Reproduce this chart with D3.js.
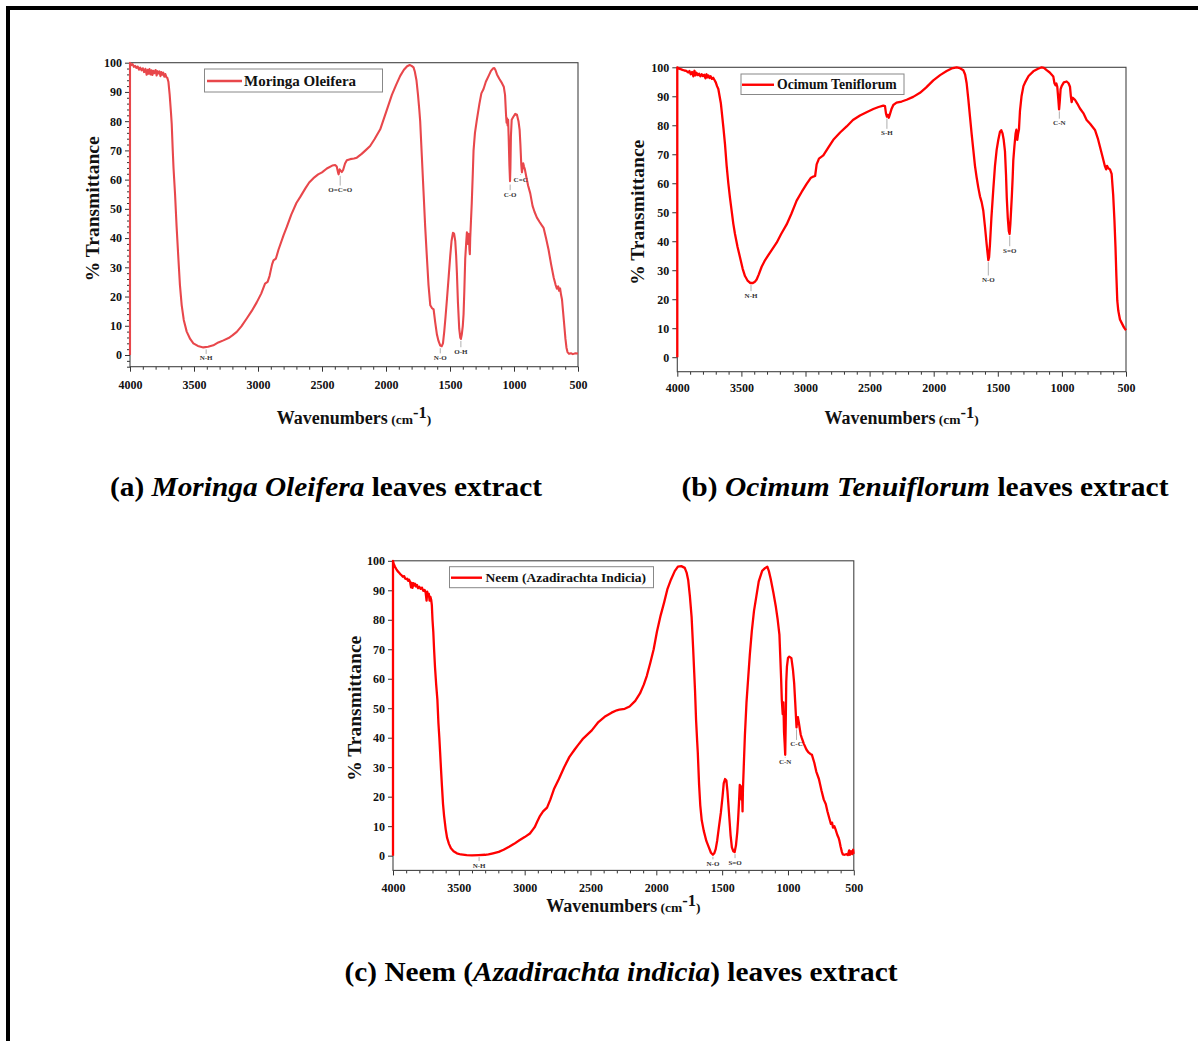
<!DOCTYPE html>
<html>
<head>
<meta charset="utf-8">
<script src="https://cdn.jsdelivr.net/npm/d3@7"></script>
<style>
  html, body { margin: 0; padding: 0; background: #fff; }
  svg { display: block; }
  text { font-family: "Liberation Serif", "Times New Roman", serif; }
</style>
</head>
<body>
<svg id="fig" width="1198" height="1041"></svg>
<script>
// ---- FTIR spectra: [wavenumber (cm-1), % transmittance] ----
const wavenumberTicks = [4000, 3500, 3000, 2500, 2000, 1500, 1000, 500];
const transmittanceTicks = [0, 10, 20, 30, 40, 50, 60, 70, 80, 90, 100];

const moringaSpectrum = [
  [4000,0],[4000,100],[3990,99.2],[3980,99.5],[3970,98.6],[3960,98.9],[3950,98.2],[3940,98.7],[3930,97.6],
  [3920,98.3],[3910,97.4],[3900,98.1],[3890,96.8],[3880,97.9],[3870,95.9],[3862,97.6],[3855,96.2],
  [3848,97.8],[3840,96.0],[3832,97.4],[3825,95.8],[3818,97.2],[3810,96.4],[3800,97.5],[3792,95.6],
  [3785,97.1],[3778,96.3],[3770,97.0],[3762,95.4],[3755,96.8],[3748,95.9],[3740,96.6],[3732,95.2],
  [3724,96.1],[3715,95.0],[3708,94.8],[3700,93.5],[3690,89],[3680,83],[3674,79],[3666,70],[3660,64],
  [3648,55],[3636,44],[3622,33],[3610,24],[3596,17],[3580,12],[3557,8],[3530,5.5],[3505,4],[3470,3.1],
  [3427,2.6],[3390,2.8],[3349,3.3],[3310,4.3],[3270,5],[3230,5.8],[3200,6.7],[3166,7.9],[3130,9.8],
  [3088,12.5],[3050,15],[3010,18],[2975,21],[2945,24.4],[2925,25],[2910,27],[2890,31],[2879,32.4],
  [2860,33],[2840,36],[2800,41],[2775,43.8],[2740,48],[2700,52],[2671,54],[2630,57],[2600,59],
  [2567,60.5],[2530,61.8],[2500,62.5],[2462,63.8],[2420,64.8],[2397,65],[2385,64.5],[2375,62.5],
  [2370,61.8],[2362,63.5],[2352,63],[2345,62.6],[2335,63.3],[2320,65.5],[2306,66.6],[2280,67],
  [2250,67.2],[2228,67.5],[2190,68.8],[2160,70],[2124,71.5],[2090,73.8],[2045,77.2],[2000,83],
  [1954,89],[1920,92.5],[1889,95.5],[1860,97.6],[1835,98.8],[1815,99.2],[1800,98.9],[1785,98.4],
  [1775,97],[1762,94],[1750,89],[1740,84],[1733,80],[1720,68],[1707,56],[1694,44],[1680,33],[1668,24],
  [1654,17],[1640,16],[1628,15.6],[1615,11],[1602,7],[1590,4.8],[1576,3.2],[1565,3],[1555,4],[1545,8],
  [1535,13],[1524,19],[1510,27],[1498,34],[1488,39],[1477,41.8],[1468,41.5],[1459,39],[1452,34],
  [1446,28],[1438,18],[1428,9],[1420,6],[1415,5.5],[1408,7],[1400,10],[1394,14],[1388,22],[1381,33],
  [1374,38],[1368,42],[1364,40],[1360,38],[1356,41.5],[1352,40.5],[1348,36],[1345,34.5],[1342,40],
  [1337,45],[1330,52],[1322,62],[1316,70],[1305,76],[1290,80.5],[1270,86],[1255,89.5],[1238,91],
  [1220,93.5],[1198,95.5],[1180,97.2],[1165,98],[1154,98.2],[1145,97.5],[1133,96],[1115,94.5],
  [1094,93],[1080,91.8],[1070,89],[1062,82],[1058,79.5],[1054,81],[1050,78.5],[1046,80.5],[1042,75],
  [1036,65],[1031,59.5],[1028,64],[1024,75],[1018,80.5],[1005,81.5],[990,82.5],[977,82.2],[965,80],
  [956,77],[950,72],[943,65],[938,62.5],[933,64],[928,65.6],[922,64.5],[915,63.5],[904,61],[890,58],
  [873,55.3],[855,51],[840,49],[821,47],[800,45.5],[785,44.5],[769,43.5],[750,40],[730,36],[710,31],
  [690,26.5],[675,24],[665,22.7],[655,23.5],[648,22],[640,22.8],[632,20.5],[625,19],[617,15],[607,10],
  [598,5.5],[590,2.5],[582,1],[570,0.4],[555,0.6],[540,0.3],[520,0.6],[500,0.5]
];

const ocimumSpectrum = [
  [4000,0],[4000,100],[3990,99.6],[3975,99.4],[3960,99.1],[3945,98.9],[3930,98.8],[3915,98.2],[3905,98.7],
  [3895,97.6],[3885,98.4],[3875,96.9],[3866,98.8],[3858,97.2],[3850,98.1],[3840,97.3],[3830,97.8],
  [3820,96.9],[3810,97.6],[3800,97.0],[3790,97.4],[3780,96.2],[3772,97.6],[3765,96.5],[3757,97.2],
  [3748,96.3],[3740,96.9],[3730,96.0],[3720,96.4],[3710,95.6],[3700,94.8],[3690,93.5],[3680,92.5],
  [3670,90],[3660,87.5],[3654,85],[3640,79],[3628,73.5],[3615,66],[3602,60],[3589,55],[3576,50.5],
  [3563,46],[3550,42.5],[3530,38],[3511,34.5],[3490,30.5],[3472,28],[3450,26.3],[3430,25.6],
  [3410,25.6],[3395,26],[3381,26.8],[3365,28.5],[3342,31.2],[3315,33.5],[3290,35.2],[3260,37.2],
  [3225,39.5],[3190,42.5],[3147,45.8],[3110,49.5],[3069,54],[3030,57],[2991,59.8],[2960,61.8],
  [2939,62.3],[2925,62.5],[2913,66.5],[2895,68.5],[2861,69.6],[2820,72.5],[2783,75],[2730,77.5],
  [2679,79.6],[2630,81.8],[2575,83.4],[2520,84.6],[2471,85.6],[2430,86.3],[2393,86.8],[2380,86.6],
  [2372,84],[2365,83],[2358,83.6],[2350,82.6],[2340,84],[2330,85.5],[2315,87],[2290,87.8],[2250,88.2],
  [2211,88.8],[2160,89.8],[2107,91.2],[2060,93],[2003,95.5],[1950,97.3],[1899,98.7],[1860,99.6],
  [1821,100],[1795,99.7],[1769,99],[1755,97.5],[1743,94.5],[1730,89],[1717,83],[1704,77],[1691,71.5],
  [1678,66],[1665,62],[1652,58.5],[1639,55.5],[1626,53.5],[1613,50.5],[1600,45],[1587,39],[1580,36],
  [1574,33.5],[1568,34.5],[1561,39],[1550,48],[1535,58],[1522,66],[1509,71.5],[1496,75],[1483,77.8],
  [1473,78.3],[1463,77.2],[1454,75],[1444,71],[1436,63],[1430,55],[1422,48],[1414,43.5],[1408,42.5],
  [1402,46],[1396,51],[1390,56],[1384,62],[1379,68],[1370,73],[1361,77.2],[1355,78.5],[1348,75],
  [1342,77],[1335,78.5],[1327,85],[1315,90],[1300,93.5],[1288,94.7],[1260,97],[1223,98.6],[1190,99.4],
  [1158,100],[1140,99.8],[1119,99],[1095,98.2],[1067,96.8],[1058,94.5],[1050,93.8],[1043,94.4],
  [1036,93.3],[1028,89],[1022,85.5],[1017,88],[1010,92.5],[1002,93.5],[985,94.8],[963,95.1],[948,94.5],
  [937,93.3],[930,90],[924,88],[915,89.5],[898,88.8],[880,87.5],[859,85.8],[830,84],[807,81.8],
  [780,80.5],[742,78.4],[720,75.5],[703,72.6],[685,69.5],[664,65.8],[655,64.8],[648,66],[638,65.2],
  [625,64.8],[612,63.2],[600,56],[590,47],[582,38],[575,28],[568,19.5],[560,16],[547,13],[530,11.5],
  [515,10.2],[500,9.3]
];

const neemSpectrum = [
  [4000,0],[4000,100],[3995,99],[3985,98],[3975,97.2],[3965,96.5],[3955,96],[3945,95.5],[3935,95.1],
  [3925,94.6],[3915,94.8],[3908,94],[3900,93.8],[3892,93.9],[3885,93.2],[3878,93.6],[3870,92.8],
  [3863,91],[3858,92.5],[3852,90.8],[3846,92.4],[3840,91.6],[3833,92.2],[3825,91.3],[3818,91.8],
  [3810,90.7],[3800,91.2],[3790,90.5],[3780,90.9],[3770,89.8],[3760,90.1],[3752,89.2],[3745,86.5],
  [3740,89.5],[3735,88],[3728,88.8],[3722,86.5],[3716,87.8],[3710,86.8],[3705,85],[3700,80],[3694,76],
  [3688,70],[3681,64],[3672,58],[3663,53],[3655,45],[3648,40],[3642,35],[3635,29],[3628,23.5],
  [3620,17.5],[3612,13.5],[3600,9],[3589,6],[3575,4],[3560,2.5],[3540,1.5],[3515,0.8],[3485,0.4],
  [3440,0.2],[3400,0.1],[3350,0.2],[3300,0.3],[3275,0.4],[3240,0.8],[3197,1.3],[3160,2],[3118,3],
  [3080,4],[3040,5.2],[3000,6.3],[2960,7.5],[2935,9],[2922,9.8],[2905,11.5],[2883,13.5],[2860,15],
  [2830,16.3],[2805,19],[2778,22.5],[2740,26],[2700,30],[2660,33.5],[2620,36],[2595,37.5],[2560,39.5],
  [2520,41.2],[2490,42.5],[2440,45.3],[2386,47.3],[2340,48.5],[2300,49.3],[2281,49.5],[2240,49.8],
  [2203,50.6],[2160,52.5],[2124,55],[2095,58],[2072,61],[2045,65.5],[2020,70],[1995,76],[1967,81.5],
  [1940,86],[1915,90.5],[1889,93.6],[1860,96.5],[1836,98],[1810,98.2],[1784,97.6],[1770,96],
  [1758,93.5],[1745,88],[1732,81],[1720,70],[1712,62],[1706,56],[1698,46],[1690,39],[1685,35],
  [1675,24],[1666,17],[1655,12],[1640,8.5],[1620,5],[1601,2.8],[1585,1],[1570,0.3],[1560,0.8],
  [1549,2.2],[1538,5],[1525,9.5],[1510,14.5],[1497,20],[1488,24.5],[1478,26],[1468,25.5],[1460,22],
  [1452,17],[1444,12],[1436,7],[1426,2.8],[1415,1.5],[1405,1.2],[1395,3.5],[1385,8],[1379,12],
  [1372,18],[1366,24],[1360,20.5],[1356,23.5],[1353,19],[1349,22.5],[1345,15],[1342,22.5],[1336,30],
  [1327,41],[1315,52],[1301,61],[1290,68],[1275,76],[1258,83],[1240,88],[1222,93],[1196,96.6],
  [1175,97.5],[1157,98],[1145,96.5],[1131,93.8],[1110,89],[1092,84.4],[1078,80],[1065,75],[1058,67],
  [1052,60],[1047,53],[1040,48],[1035,52],[1030,42],[1025,38],[1021,34.2],[1017,45],[1013,59],
  [1008,64],[1000,67],[990,67.5],[974,67],[962,63],[953,58.5],[945,52],[938,46],[935,43.5],[930,46.5],
  [925,47],[917,45],[910,43],[903,41],[896,40],[880,38],[860,36],[844,35],[830,34.5],[818,34.2],
  [800,31.5],[785,28.5],[765,26],[745,22],[728,19],[713,17.5],[700,15],[685,12.5],[674,10.8],
  [665,11.2],[658,9.5],[648,10],[638,8.8],[625,7],[615,6],[609,5],[600,3],[590,1.2],[583,0.4],
  [570,0.3],[555,0.5],[545,0.2],[535,1.8],[530,0.3],[520,1.5],[512,0.5],[505,2],[500,0.6]
];

// Band assignments: wavenumber, transmittance at the band, transmittance where the label sits
const moringaBands = [
  { label: "N-H",   wn: 3405, peak: 2.6,  at: -1.0 },
  { label: "O=C=O", wn: 2358, peak: 62.0, at: 56.6 },
  { label: "N-O",   wn: 1576, peak: 3.0,  at: -0.8 },
  { label: "O-H",   wn: 1415, peak: 5.5,  at: 1.3 },
  { label: "C-O",   wn: 1030, peak: 59.0, at: 55.0 },
  { label: "C=C",   wn: 948,  peak: 62.5, at: 60.2 }
];
const ocimumBands = [
  { label: "N-H", wn: 3425, peak: 25.6, at: 21.4 },
  { label: "S-H", wn: 2365, peak: 83.0, at: 77.4 },
  { label: "N-O", wn: 1574, peak: 33.5, at: 26.8 },
  { label: "S=O", wn: 1407, peak: 42.5, at: 36.9 },
  { label: "C-N", wn: 1020, peak: 85.5, at: 80.9 }
];
const neemBands = [
  { label: "N-H", wn: 3346, peak: 0.2,  at: -3.2 },
  { label: "N-O", wn: 1570, peak: 0.3,  at: -2.6 },
  { label: "S=O", wn: 1402, peak: 1.2,  at: -2.2 },
  { label: "C-N", wn: 1021, peak: 34.2, at: 31.9 },
  { label: "C-C", wn: 935,  peak: 43.5, at: 37.9 }
];

const seriesNames = ["Moringa Oleifera", "Ocimum Teniflorum", "Neem (Azadirachta Indicia)"];
const captions = [
  [["(a) ", false], ["Moringa Oleifera", true], [" leaves extract", false]],
  [["(b) ", false], ["Ocimum Tenuiflorum", true], [" leaves extract", false]],
  [["(c) Neem (", false], ["Azadirachta indicia", true], [") leaves extract", false]]
];

// ---- layout of the three panels ----
const panels = [
  { data: moringaSpectrum, bands: moringaBands, name: seriesNames[0],
    left: 130, right: 578, top: 62.7, bottom: 366.7, yMin: -4, minorY: true,
    color: "#e8474b", width: 2.1,
    tickLabelDy: 22, xTitleY: 424, yTitleX: 92,
    legend: { x: 204.5, y: 69, w: 178, h: 23, lineX1: 207, lineX2: 242, textX: 244, fs: 15 } },
  { data: ocimumSpectrum, bands: ocimumBands, name: seriesNames[1],
    left: 677.3, right: 1126, top: 67.3, bottom: 371.7, yMin: -5, minorY: false,
    color: "#ff0000", width: 2.3,
    tickLabelDy: 20, xTitleY: 424, yTitleX: 637,
    legend: { x: 741, y: 74, w: 163, h: 20.5, lineX1: 742, lineX2: 774, textX: 777, fs: 13.7 } },
  { data: neemSpectrum, bands: neemBands, name: seriesNames[2],
    left: 393, right: 853.8, top: 560.8, bottom: 870.4, yMin: -5, minorY: false,
    color: "#ff0000", width: 2.3,
    tickLabelDy: 21, xTitleY: 912, yTitleX: 354,
    legend: { x: 449.5, y: 566.7, w: 204, h: 21, lineX1: 451, lineX2: 482, textX: 485.6, fs: 13.5 } }
];

const svg = d3.select("#fig");
svg.append("rect").attr("width", 1198).attr("height", 1041).attr("fill", "#fff");

// page frame (top and left rules)
svg.append("rect").attr("x", 6).attr("y", 6).attr("width", 1192).attr("height", 4).attr("fill", "#000");
svg.append("rect").attr("x", 6).attr("y", 6).attr("width", 4).attr("height", 1035).attr("fill", "#000");

const defs = svg.append("defs");

panels.forEach((p, i) => {
  const x = d3.scaleLinear().domain([4000, 500]).range([p.left, p.right]);
  const y = d3.scaleLinear().domain([p.yMin, 100]).range([p.bottom, p.top]);
  const g = svg.append("g");

  // x axis: majors every 500, minors every 100, ticks outward
  const minorX = d3.range(500, 4001, 100).filter(v => v % 500 !== 0);
  g.append("g").attr("transform", `translate(0,${p.bottom})`)
    .call(d3.axisBottom(x).tickValues(minorX).tickSize(3).tickFormat(""))
    .call(a => a.select(".domain").remove())
    .call(a => a.selectAll("line").attr("stroke", "#333"));
  g.append("g").attr("transform", `translate(0,${p.bottom})`)
    .call(d3.axisBottom(x).tickValues(wavenumberTicks).tickSize(5).tickPadding(p.tickLabelDy - 13)
      .tickFormat(d3.format("d")))
    .call(a => a.select(".domain").remove())
    .call(a => a.selectAll("line").attr("stroke", "#333"))
    .call(a => a.selectAll("text").attr("font-family", "Liberation Serif, serif")
      .attr("font-weight", "bold").attr("font-size", 12).attr("fill", "#111"));

  // y axis
  if (p.minorY) {
    const minorYs = d3.range(-4, 101, 2).filter(v => v % 10 !== 0);
    g.append("g").attr("transform", `translate(${p.left},0)`)
      .call(d3.axisLeft(y).tickValues(minorYs).tickSize(3).tickFormat(""))
      .call(a => a.select(".domain").remove())
      .call(a => a.selectAll("line").attr("stroke", "#333"));
  }
  g.append("g").attr("transform", `translate(${p.left},0)`)
    .call(d3.axisLeft(y).tickValues(transmittanceTicks).tickSize(5).tickPadding(3)
      .tickFormat(d3.format("d")))
    .call(a => a.select(".domain").remove())
    .call(a => a.selectAll("line").attr("stroke", "#333"))
    .call(a => a.selectAll("text").attr("font-family", "Liberation Serif, serif")
      .attr("font-weight", "bold").attr("font-size", 12).attr("fill", "#111"));

  // frame
  g.append("rect").attr("x", p.left).attr("y", p.top)
    .attr("width", p.right - p.left).attr("height", p.bottom - p.top)
    .attr("fill", "none").attr("stroke", "#444").attr("stroke-width", 1.1);

  // spectrum
  const clipId = `clip-${i}`;
  defs.append("clipPath").attr("id", clipId).append("rect")
    .attr("x", p.left - 2).attr("y", p.top - 2)
    .attr("width", p.right - p.left + 3).attr("height", p.bottom - p.top + 3);
  const line = d3.line().x(d => x(d[0])).y(d => y(d[1]));
  g.append("path").datum(p.data)
    .attr("clip-path", `url(#${clipId})`)
    .attr("d", line).attr("fill", "none")
    .attr("stroke", p.color).attr("stroke-width", p.width)
    .attr("stroke-linejoin", "round");

  // band labels with leader lines
  const bands = g.append("g");
  p.bands.forEach(b => {
    const y0 = y(b.peak) + 2, y1 = y(b.at) - 4;
    if (y1 > y0) {
      bands.append("line").attr("x1", x(b.wn)).attr("x2", x(b.wn))
        .attr("y1", y0).attr("y2", y1).attr("stroke", "#999").attr("stroke-width", 0.8);
    }
    bands.append("text").attr("x", x(b.wn)).attr("y", y(b.at) + 2.5)
      .attr("text-anchor", "middle").attr("font-size", 7).attr("font-weight", "bold")
      .attr("fill", "#333").text(b.label);
  });

  // legend
  const L = p.legend;
  g.append("rect").attr("x", L.x).attr("y", L.y).attr("width", L.w).attr("height", L.h)
    .attr("fill", "#fff").attr("stroke", "#888").attr("stroke-width", 1);
  g.append("line").attr("x1", L.lineX1).attr("x2", L.lineX2)
    .attr("y1", L.y + L.h / 2 + 0.5).attr("y2", L.y + L.h / 2 + 0.5)
    .attr("stroke", p.color).attr("stroke-width", 2.4);
  g.append("text").attr("x", L.textX).attr("y", L.y + L.h / 2 + L.fs * 0.34)
    .attr("font-size", L.fs).attr("font-weight", "bold").attr("fill", "#111").text(p.name);

  // axis titles
  g.append("text")
    .attr("transform", `translate(${p.yTitleX},${(y(0) + y(100)) / 2}) rotate(-90)`)
    .attr("text-anchor", "middle").attr("font-size", 19.5).attr("font-weight", "bold")
    .attr("fill", "#111").attr("dy", "0.35em").text("% Transmittance");

  const xt = g.append("text").attr("x", (p.left + p.right) / 2).attr("y", p.xTitleY)
    .attr("text-anchor", "middle").attr("font-weight", "bold").attr("fill", "#111");
  xt.append("tspan").attr("font-size", 18).text("Wavenumbers");
  xt.append("tspan").attr("font-size", 13.5).text(" (cm");
  xt.append("tspan").attr("font-size", 16.5).attr("dy", -6).text("-1");
  xt.append("tspan").attr("font-size", 13.5).attr("dy", 6).text(")");
});

// captions under the panels, each set to its printed width
const captionPos = [
  { cx: 326, y: 496, width: 432 },
  { cx: 925, y: 496, width: 487 },
  { cx: 621, y: 981, width: 553 }
];
captions.forEach((parts, i) => {
  const t = svg.append("text").attr("x", captionPos[i].cx).attr("y", captionPos[i].y)
    .attr("text-anchor", "middle").attr("font-size", 26.5).attr("font-weight", "bold").attr("fill", "#000")
    .attr("textLength", captionPos[i].width).attr("lengthAdjust", "spacingAndGlyphs");
  parts.forEach(([s, italic]) => {
    t.append("tspan").attr("font-style", italic ? "italic" : "normal").text(s);
  });
});
</script>
</body>
</html>
